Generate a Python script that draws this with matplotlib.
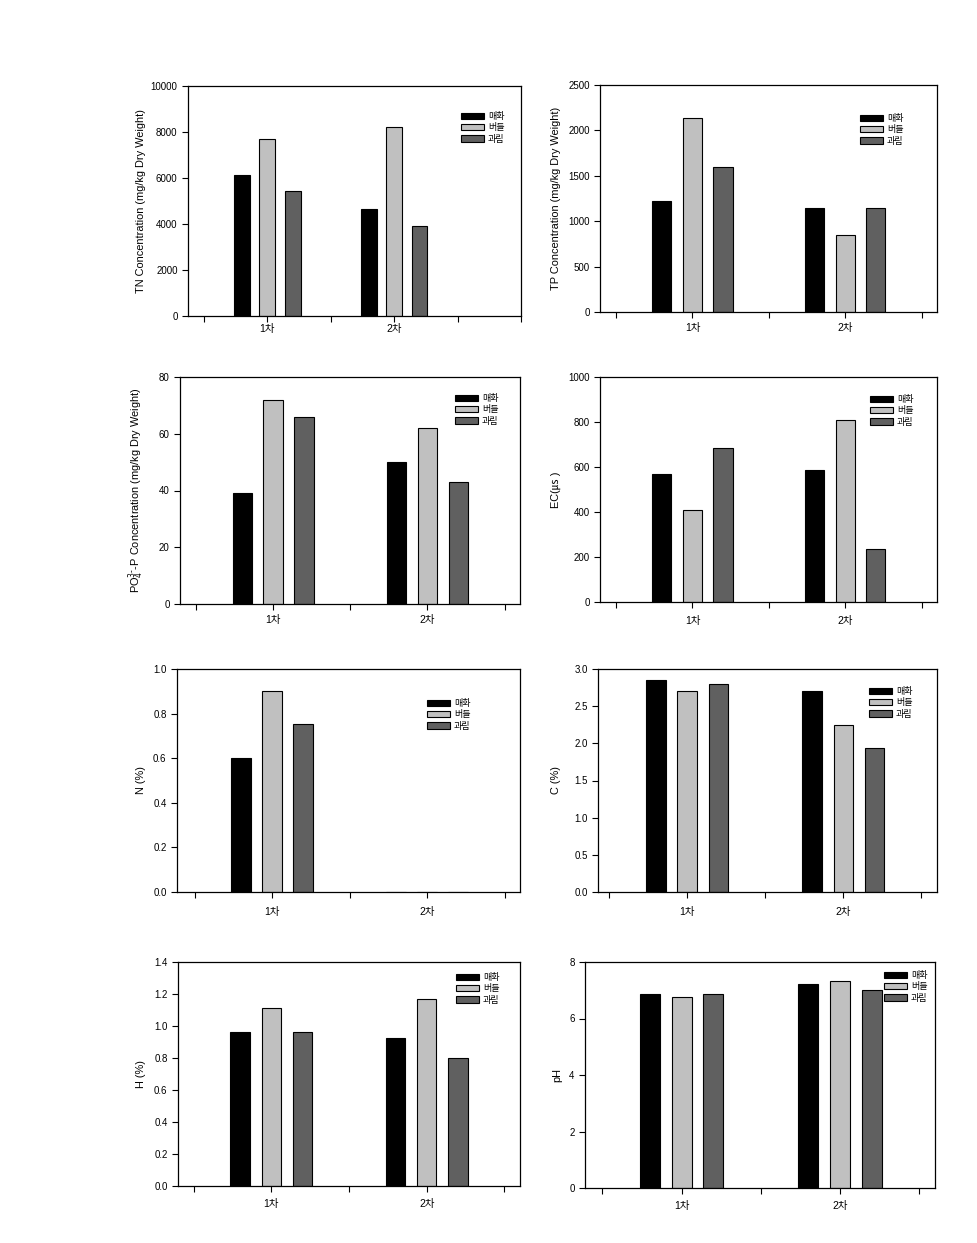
import matplotlib
matplotlib.use("Agg")
import matplotlib.pyplot as plt
import numpy as np

plt.rcParams['font.family'] = ['Liberation Sans', 'Noto Sans CJK KR', 'DejaVu Sans']
plt.rcParams['axes.unicode_minus'] = False

groups = ["1차", "2차"]
sites = ["매화", "버들", "과림"]
colors = ["#000000", "#c0c0c0", "#606060"]

tn = {"매화": [6150, 4650], "버들": [7700, 8200], "과림": [5430, 3900]}
tp = {"매화": [1220, 1145], "버들": [2135, 848], "과림": [1597, 1145]}
po4 = {"매화": [39.1, 50.0], "버들": [71.9, 62.0], "과림": [65.9, 43.0]}
ec = {"매화": [569, 587], "버들": [409, 809], "과림": [684, 236]}
n_pct = {"매화": [0.60, 0.0], "버들": [0.90, 0.0], "과림": [0.753, 0.0]}
c_pct = {"매화": [2.85, 2.70], "버들": [2.70, 2.25], "과림": [2.80, 1.94]}
h_pct = {"매화": [0.962, 0.925], "버들": [1.11, 1.17], "과림": [0.962, 0.80]}
ph = {"매화": [6.87, 7.22], "버들": [6.76, 7.33], "과림": [6.87, 7.01]}

W, H = 978, 1243
fig = plt.figure(figsize=(W / 100, H / 100), dpi=100)

# panel specs: data, ylabel, ylim, yticks, axes px (left, top, right, bottom), xlim, label x px, tick pad, legend px (x, y)
panels = [
    (tn, "TN Concentration (mg/kg Dry Weight)", (0, 10000), np.arange(0, 10001, 2000),
     (188, 86, 521, 316), (0.374, 2.996), 146, 2, (461, 112)),
    (tp, "TP Concentration (mg/kg Dry Weight)", (0, 2500), np.arange(0, 2501, 500),
     (600, 85, 937, 312), (0.395, 2.6), 561, 4, (860, 114)),
    (po4, "PO$_4^{3\u2010}$-P Concentration (mg/kg Dry Weight)", (0, 80), np.arange(0, 81, 20),
     (180, 377, 520, 604), (0.397, 2.6), 146, 4, (455, 394)),
    (ec, "EC(㎲ )", (0, 1000), np.arange(0, 1001, 200),
     (600, 377, 937, 602), (0.395, 2.6), 561, 6, (870, 395)),
    (n_pct, "N (%)", (0, 1.0), np.round(np.arange(0, 1.01, 0.2), 1),
     (177, 669, 520, 892), (0.387, 2.6), 146, 7, (427, 699)),
    (c_pct, "C (%)", (0, 3.0), np.round(np.arange(0, 3.01, 0.5), 1),
     (598, 669, 937, 892), (0.43, 2.6), 561, 7, (869, 687)),
    (h_pct, "H (%)", (0, 1.4), np.round(np.arange(0, 1.41, 0.2), 1),
     (178, 962, 520, 1186), (0.40, 2.6), 146, 5, (456, 973)),
    (ph, "pH", (0, 8), np.arange(0, 9, 2),
     (585, 962, 935, 1188), (0.39, 2.6), 562, 5, (884, 971)),
]

x = np.arange(1, len(groups) + 1)
bw = 0.125
offs = [-0.2, 0.0, 0.2]

for data, ylabel, ylim, yticks, (l, t, r, b), xlim, lxp, pad, (legx, legy) in panels:
    ax = fig.add_axes([l / W, 1 - b / H, (r - l) / W, (b - t) / H])
    handles = []
    for s, c, o in zip(sites, colors, offs):
        hb = ax.bar(x + o, data[s], width=bw, color=c, edgecolor="black", linewidth=0.8, label=s)
        handles.append(hb)
    ax.set_xlim(*xlim)
    ax.set_ylim(*ylim)
    ax.set_yticks(yticks)
    if ylim[1] < 5:
        ax.set_yticklabels([f"{v:.1f}" for v in yticks])
    ax.set_xticks(x)
    ax.set_xticklabels(groups)
    minors = [v for v in np.arange(0.5, xlim[1] + 0.01, 0.5) if v not in (1.0, 2.0)]
    ax.set_xticks(minors, minor=True)
    ax.tick_params(axis="both", which="both", direction="out", length=4, width=0.8, labelsize=7)
    ax.tick_params(axis="x", which="major", pad=pad, labelsize=7.5)
    for sp in ax.spines.values():
        sp.set_linewidth(0.9)
    ax.set_ylabel(ylabel, fontsize=7.9)
    ax.yaxis.set_label_coords((lxp - l) / (r - l), 0.5)
    ax.legend(handles=handles, labels=sites, loc="upper left",
              bbox_to_anchor=(legx / W, 1 - legy / H), bbox_transform=fig.transFigure,
              frameon=False, fontsize=6.5, handlelength=2.5, handleheight=0.75,
              labelspacing=0.25, borderpad=0, borderaxespad=0, handletextpad=0.5)

fig.savefig("out.png", dpi=100)
